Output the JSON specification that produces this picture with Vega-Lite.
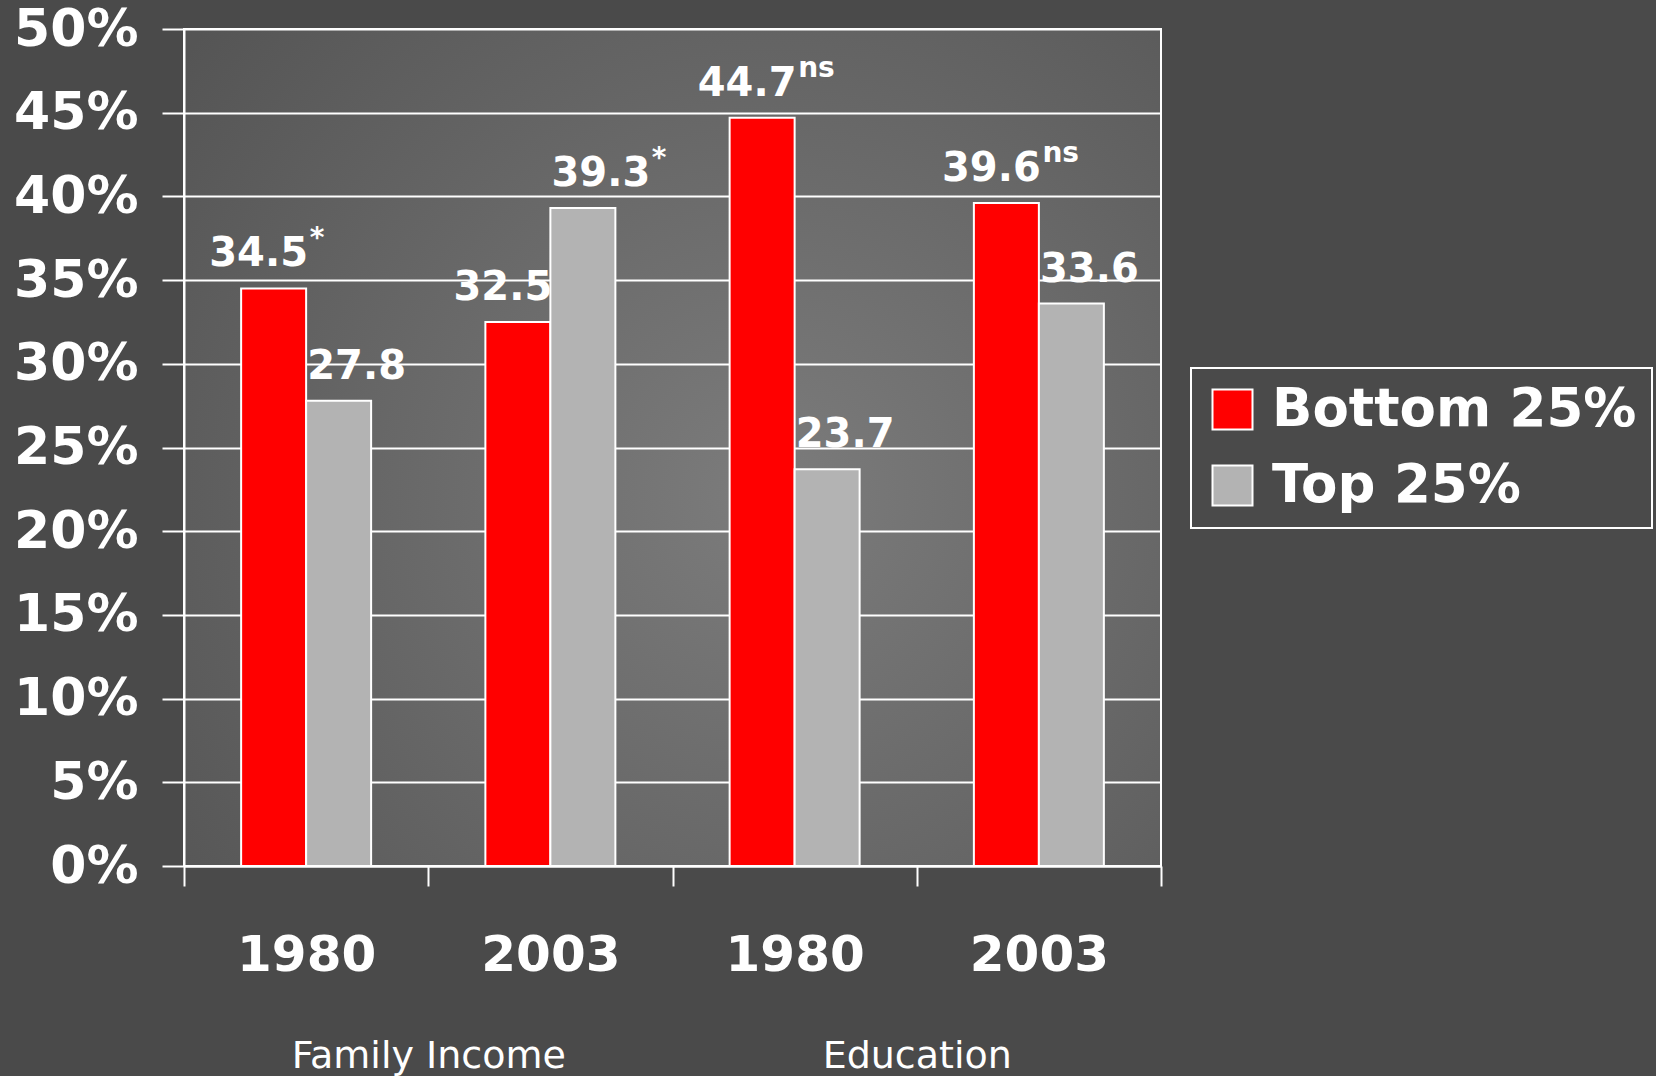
{
  "$schema": "https://vega.github.io/schema/vega-lite/v6.json",
  "autosize": {"type": "none"},
  "padding": {"left": 184, "top": 29, "right": 495, "bottom": 210},
  "width": 977,
  "height": 837,
  "background": "#4a4a4a",
  "view": {
    "stroke": "#ffffff",
    "strokeWidth": 2,
    "fill": {
      "gradient": "radial",
      "x1": 0.6, "y1": 0.55, "r1": 0,
      "x2": 0.6, "y2": 0.55, "r2": 0.75,
      "stops": [
        {"offset": 0, "color": "#7c7c7c"},
        {"offset": 1, "color": "#555555"}
      ]
    }
  },
  "data": {
    "values": [
      {"group": "Family Income", "year": "1980", "key": "Family Income|1980", "series": "Bottom 25%", "value": 34.5, "sig": "*"},
      {"group": "Family Income", "year": "1980", "key": "Family Income|1980", "series": "Top 25%", "value": 27.8, "sig": ""},
      {"group": "Family Income", "year": "2003", "key": "Family Income|2003", "series": "Bottom 25%", "value": 32.5, "sig": ""},
      {"group": "Family Income", "year": "2003", "key": "Family Income|2003", "series": "Top 25%", "value": 39.3, "sig": "*"},
      {"group": "Education", "year": "1980", "key": "Education|1980", "series": "Bottom 25%", "value": 44.7, "sig": "ns"},
      {"group": "Education", "year": "1980", "key": "Education|1980", "series": "Top 25%", "value": 23.7, "sig": ""},
      {"group": "Education", "year": "2003", "key": "Education|2003", "series": "Bottom 25%", "value": 39.6, "sig": "ns"},
      {"group": "Education", "year": "2003", "key": "Education|2003", "series": "Top 25%", "value": 33.6, "sig": ""}
    ]
  },
  "layer": [
    {
      "encoding": {
        "x": {
          "field": "key",
          "type": "nominal",
          "sort": null,
          "scale": {"paddingInner": 0, "paddingOuter": 0},
          "axis": {
            "orient": "bottom",
            "title": null,
            "labelExpr": "split(datum.value, '|')[1]",
            "labelAngle": 0,
            "labelFont": "DejaVu Sans",
            "labelFontWeight": "bold",
            "labelFontSize": 50,
            "labelColor": "#ffffff",
            "labelPadding": 44,
            "labelBaseline": "top",
            "tickBand": "extent",
            "tickSize": 20,
            "tickColor": "#ffffff",
            "tickWidth": 2,
            "domainColor": "#ffffff",
            "domainWidth": 2,
            "grid": false
          }
        },
        "xOffset": {
          "field": "series",
          "type": "nominal",
          "scale": {"domain": ["Bottom 25%", "Top 25%"], "paddingOuter": 0.879, "paddingInner": 0}
        },
        "y": {
          "field": "value",
          "type": "quantitative",
          "scale": {"domain": [0, 50], "nice": false},
          "axis": {
            "title": null,
            "values": [0, 5, 10, 15, 20, 25, 30, 35, 40, 45, 50],
            "labelExpr": "datum.value + '%'",
            "labelFont": "DejaVu Sans",
            "labelFontWeight": "bold",
            "labelFontSize": 52,
            "labelColor": "#ffffff",
            "labelPadding": 24,
            "tickSize": 22,
            "tickColor": "#ffffff",
            "tickWidth": 2,
            "domainColor": "#ffffff",
            "domainWidth": 2,
            "grid": true,
            "gridColor": "#ffffff",
            "gridWidth": 2,
            "gridOpacity": 1
          }
        }
      },
      "layer": [
        {
          "mark": {"type": "bar", "stroke": "#ffffff", "strokeWidth": 2, "opacity": 1},
          "encoding": {
            "color": {
              "field": "series",
              "type": "nominal",
              "scale": {"domain": ["Bottom 25%", "Top 25%"], "range": ["#ff0000", "#b3b3b3"]},
              "legend": {
                "orient": "none",
                "legendX": 1007,
                "legendY": 339,
                "title": null,
                "strokeColor": "#ffffff",
                "padding": 15,
                "symbolType": "square",
                "symbolSize": 1600,
                "symbolStrokeColor": "#ffffff",
                "symbolStrokeWidth": 2,
                "symbolOpacity": 1,
                "labelFont": "DejaVu Sans",
                "labelFontWeight": "bold",
                "labelFontSize": 53,
                "labelColor": "#ffffff",
                "labelOffset": 13,
                "rowPadding": 22,
                "labelLimit": 600,
                "encode": {"legend": {"update": {"strokeWidth": {"value": 2}}}}
              }
            }
          }
        },
        {
          "transform": [{"filter": "datum.series === 'Bottom 25%'"}],
          "mark": {"type": "text", "font": "DejaVu Sans", "fontWeight": "bold", "fontSize": 40, "color": "#ffffff", "baseline": "alphabetic", "align": "center", "dx": -15, "dy": -22},
          "encoding": {"text": {"field": "value", "type": "quantitative", "format": ".1f"}}
        },
        {
          "transform": [{"filter": "datum.series === 'Top 25%'"}],
          "mark": {"type": "text", "font": "DejaVu Sans", "fontWeight": "bold", "fontSize": 40, "color": "#ffffff", "baseline": "alphabetic", "align": "center", "dx": 18, "dy": -22},
          "encoding": {"text": {"field": "value", "type": "quantitative", "format": ".1f"}}
        },
        {
          "transform": [{"filter": "datum.series === 'Bottom 25%' && datum.sig !== ''"}],
          "mark": {"type": "text", "font": "DejaVu Sans", "fontWeight": "bold", "fontSize": 28, "color": "#ffffff", "baseline": "alphabetic", "align": "left", "dx": 36, "dy": -41},
          "encoding": {"text": {"field": "sig", "type": "nominal"}}
        },
        {
          "transform": [{"filter": "datum.series === 'Top 25%' && datum.sig !== ''"}],
          "mark": {"type": "text", "font": "DejaVu Sans", "fontWeight": "bold", "fontSize": 28, "color": "#ffffff", "baseline": "alphabetic", "align": "left", "dx": 69, "dy": -41},
          "encoding": {"text": {"field": "sig", "type": "nominal"}}
        }
      ]
    },
    {
      "mark": {"type": "point", "opacity": 0},
      "encoding": {
        "x": {
          "field": "group",
          "type": "nominal",
          "sort": null,
          "scale": {"paddingInner": 0, "paddingOuter": 0},
          "axis": {
            "orient": "bottom",
            "title": null,
            "labelAngle": 0,
            "labelFont": "DejaVu Sans",
            "labelFontSize": 38,
            "labelColor": "#ffffff",
            "labelBaseline": "top",
            "labelPadding": 171,
            "labelLimit": 600,
            "ticks": false,
            "tickSize": 0,
            "domain": false,
            "grid": false
          }
        }
      }
    }
  ],
  "resolve": {"scale": {"x": "independent"}, "axis": {"x": "independent"}}
}
